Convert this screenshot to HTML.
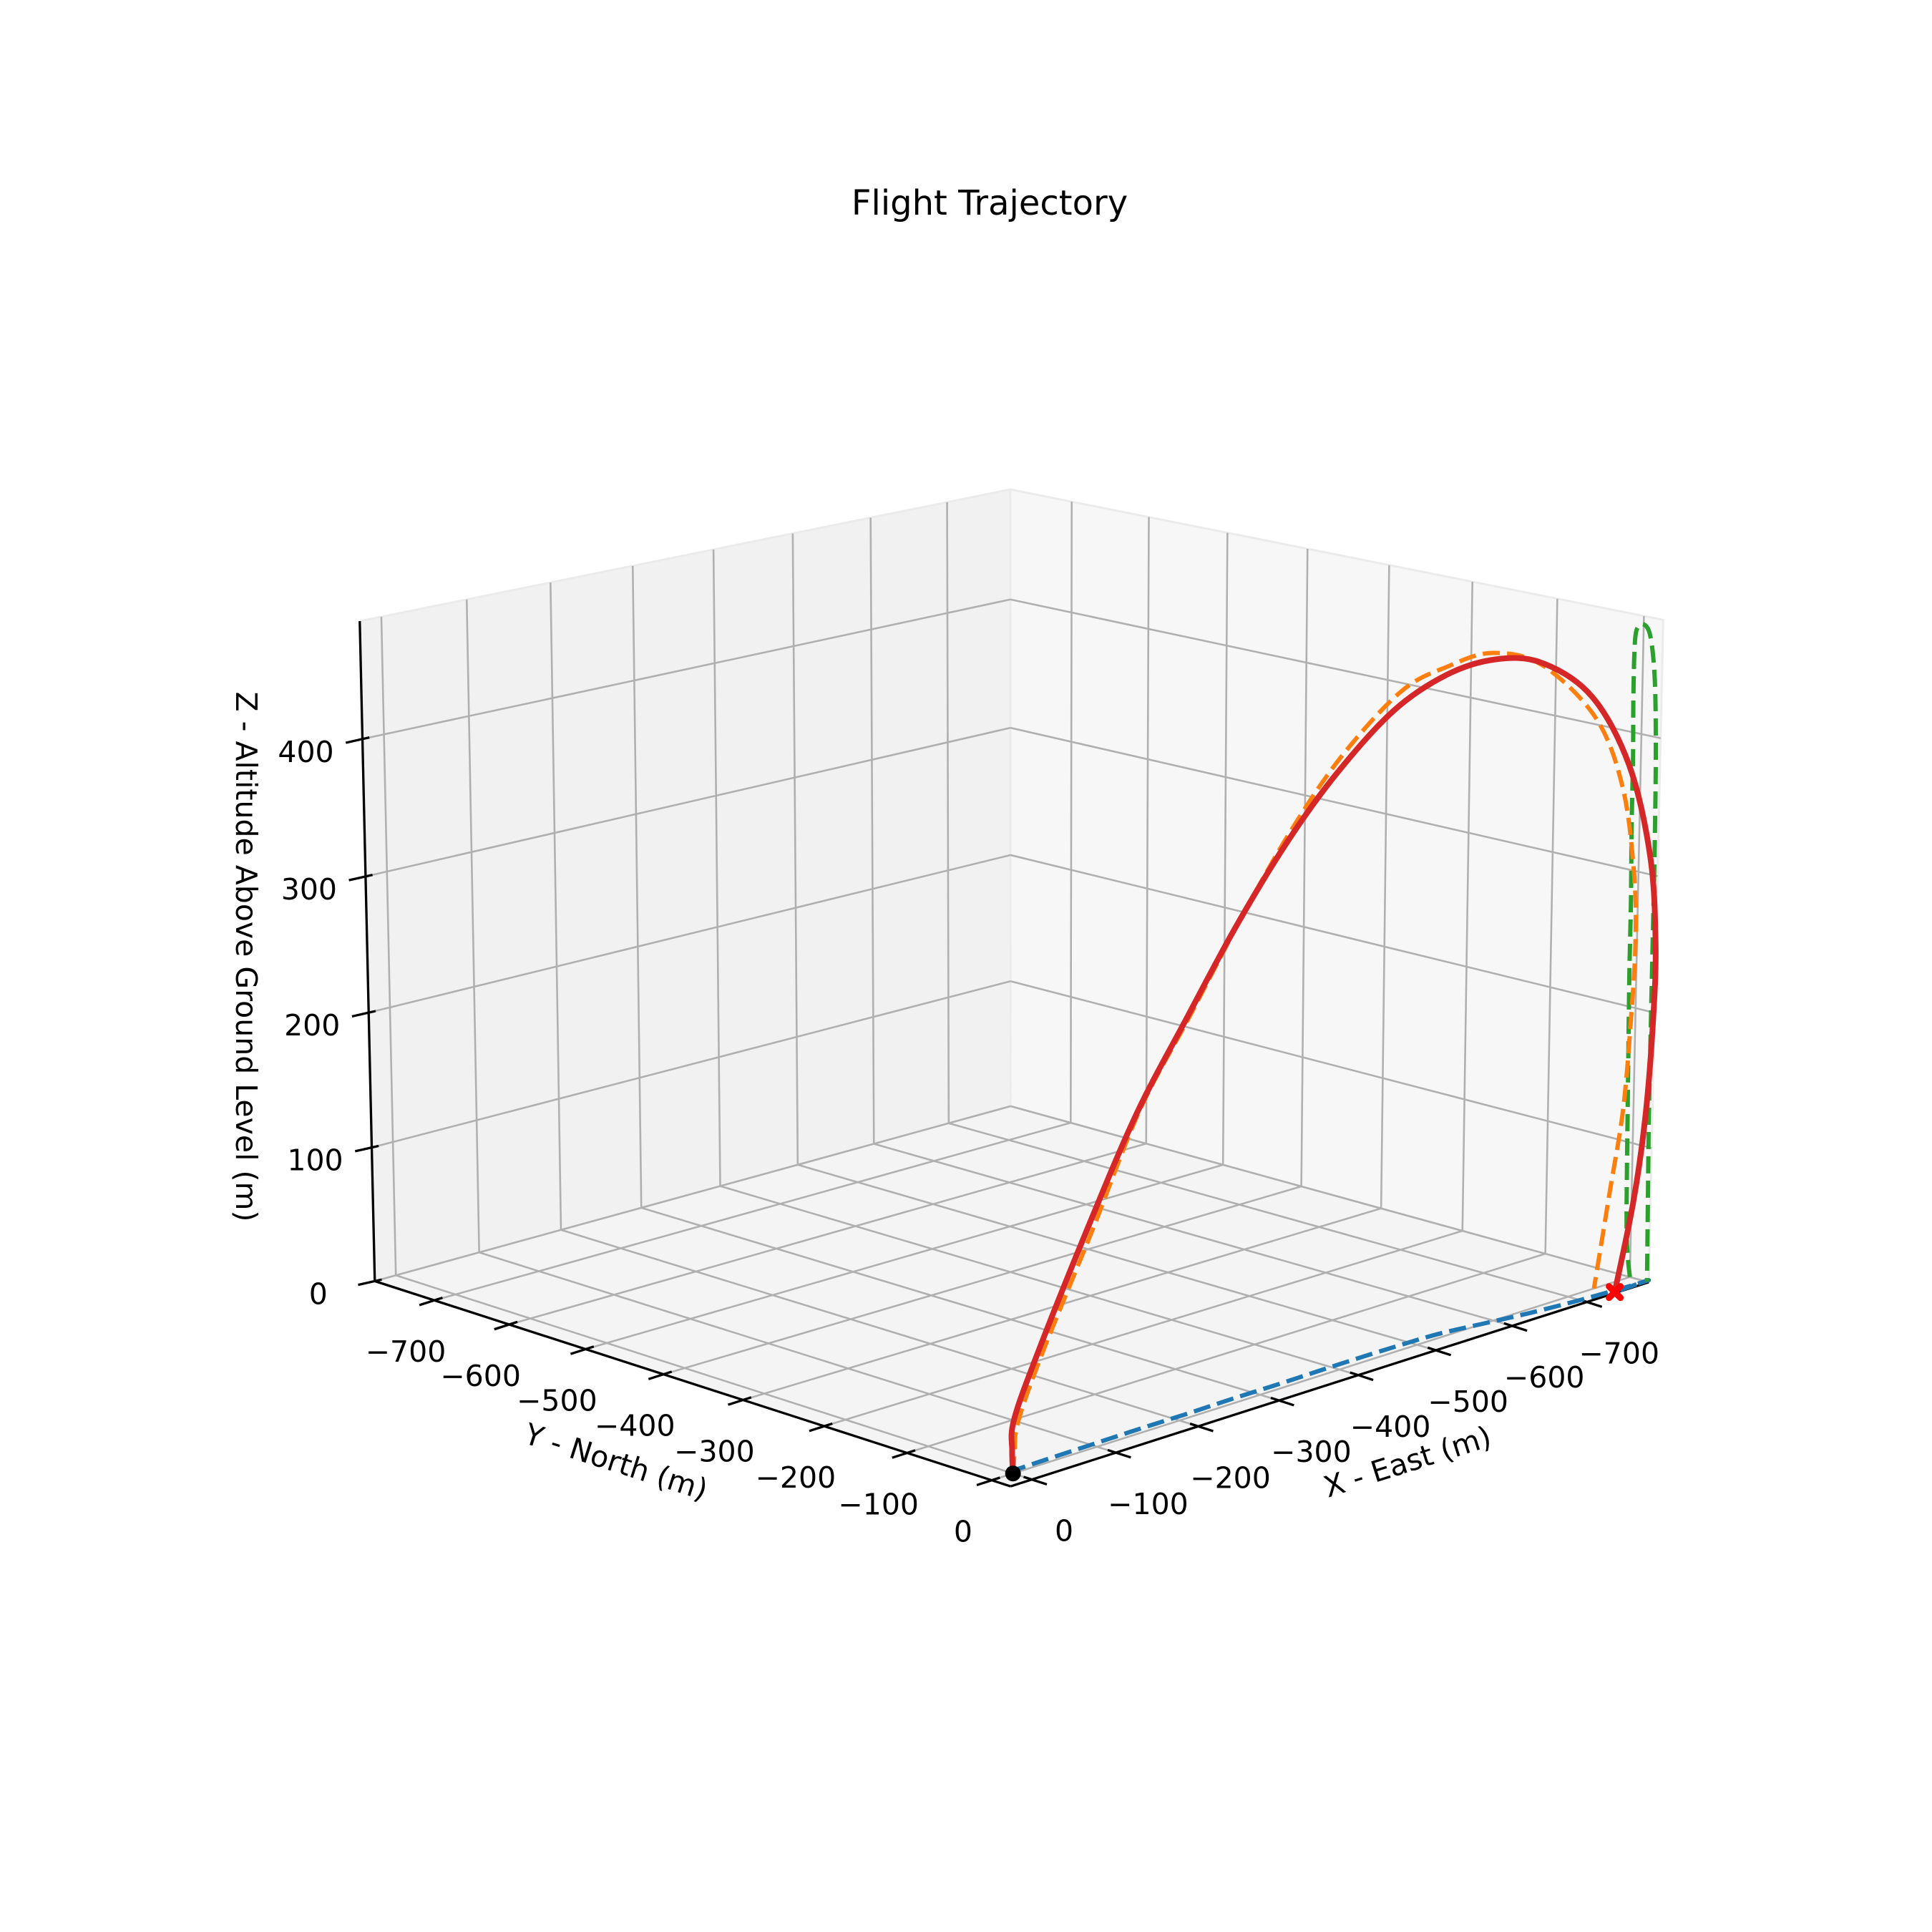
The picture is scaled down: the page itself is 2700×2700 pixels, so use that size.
<!DOCTYPE html>
<html><head><meta charset="utf-8"><title>Flight Trajectory</title>
<style>
html,body{margin:0;padding:0;background:#fff;}
svg{display:block;}
text{font-family:"DejaVu Sans","Liberation Sans",sans-serif;fill:#000;}
</style></head>
<body>
<svg id="chart" width="2700" height="2700" viewBox="0 0 2700 2700" xmlns="http://www.w3.org/2000/svg">
<rect x="0" y="0" width="2700" height="2700" fill="#fff"/>
<text x="1383" y="284" font-size="48" text-anchor="middle" dominant-baseline="central">Flight Trajectory</text>
<g id="panes"></g>
<g id="grid"></g>
<g id="axes"></g>
<g id="series"></g>
<text x="1967" y="2043" font-size="41" text-anchor="middle" dominant-baseline="central" transform="rotate(-17.6 1967 2043)">X - East (m)</text>
<text x="861" y="2043" font-size="41" text-anchor="middle" dominant-baseline="central" transform="rotate(17.7 861 2043)">Y - North (m)</text>
<text x="344" y="1337" font-size="41" text-anchor="middle" dominant-baseline="central" transform="rotate(90 344 1337)">Z - Altitude Above Ground Level (m)</text>
</svg>
<script>
// ---- data ----
const xLimits = [-784, 25];
const yLimits = [-781, 22];
const zLimits = [0, 485];
const xTicks = [0, -100, -200, -300, -400, -500, -600, -700];
const yTicks = [0, -100, -200, -300, -400, -500, -600, -700];
const zTicks = [0, 100, 200, 300, 400];
const xTickLabels = ["0", "\u2212100", "\u2212200", "\u2212300", "\u2212400", "\u2212500", "\u2212600", "\u2212700"];
const yTickLabels = ["0", "\u2212100", "\u2212200", "\u2212300", "\u2212400", "\u2212500", "\u2212600", "\u2212700"];
const zTickLabels = ["0", "100", "200", "300", "400"];
// actual trajectory (red)
const actualX = [0, -2, -6, -34, -93, -154, -214, -274, -335, -398, -470, -535, -588, -640, -700, -748, -778, -788, -787, -779, -764, -740];
const actualY = [0, -3, -5, -6, -7, -8, -8, -9, -9, -10, -10, -8, 0, 8, 14, 17, 18, 18, 18, 18, 19, 20];
const actualZ = [0, 15, 35, 75, 150, 222, 279, 333, 382, 422, 457, 474, 479, 471, 440, 385, 315, 250, 194, 122, 63, 0];
// reference trajectory (orange)
const refX = [0, -2, -6, -34, -93, -150, -210, -270, -330, -393, -468, -528, -585, -650, -722, -760, -778, -782, -778, -770, -754, -735];
const refY = [0, 0, 0, 0, 0, 0, 0, 0, 0, 0, 0, 0, 0, 0, 0, 0, 0, 0, 0, 0, 0, 0];
const refZ = [0, 15, 35, 77, 152, 227, 283, 340, 392, 436, 472, 482, 484, 467, 420, 365, 300, 248, 193, 128, 69, 0];

// ---- projection (fitted perspective camera) ----
const calib = [
  [0,0,0,1412,2077],[1,0,0,2307,1790],[0,1,0,522,1791],[1,1,0,1412,1545],
  [1,1,1,1412,685],[0,1,1,503,870],[1,0,1,2325,866],
  [0.0309,0,0,1440,2068],[0.896,0,0,2214,1822],
  [0,0.0274,0,1388,2068],[0,0.899,0,611,1820],
  [0,1,0.825,506,1031],[0,1,0.412,514,1412]
];
function solveCamera(){
  const A=[],b=[];
  calib.forEach(p=>{const [u,v,w]=p;const X=p[3]/1000,Y=p[4]/1000;
    A.push([u,v,w,1,0,0,0,0,-X*u,-X*v,-X*w]);b.push(X);
    A.push([0,0,0,0,u,v,w,1,-Y*u,-Y*v,-Y*w]);b.push(Y);});
  const n=11,N=[];
  for(let i=0;i<n;i++){N.push(new Array(n+1).fill(0));}
  for(let r=0;r<A.length;r++){for(let i=0;i<n;i++){for(let j=0;j<n;j++){N[i][j]+=A[r][i]*A[r][j];}N[i][n]+=A[r][i]*b[r];}}
  for(let c=0;c<n;c++){let piv=c;for(let r=c+1;r<n;r++){if(Math.abs(N[r][c])>Math.abs(N[piv][c]))piv=r;}
    const t=N[c];N[c]=N[piv];N[piv]=t;
    for(let r=0;r<n;r++){if(r===c)continue;const f=N[r][c]/N[c][c];for(let k=c;k<=n;k++){N[r][k]-=f*N[c][k];}}}
  return N.map((row,i)=>row[n]/row[i]);
}
const P = solveCamera();
function proj(x,y,z){
  const u=(xLimits[1]-x)/(xLimits[1]-xLimits[0]);
  const v=(yLimits[1]-y)/(yLimits[1]-yLimits[0]);
  const w=(z-zLimits[0])/(zLimits[1]-zLimits[0]);
  const d=P[8]*u+P[9]*v+P[10]*w+1;
  return [1000*(P[0]*u+P[1]*v+P[2]*w+P[3])/d, 1000*(P[4]*u+P[5]*v+P[6]*w+P[7])/d];
}
const NS="http://www.w3.org/2000/svg";
function mk(tag,parent){const e=document.createElementNS(NS,tag);parent.appendChild(e);return e;}
function poly(pts){return pts.map(p=>p[0].toFixed(1)+","+p[1].toFixed(1)).join(" ");}
function smooth(pts){
  let d="M"+pts[0][0].toFixed(1)+" "+pts[0][1].toFixed(1);
  for(let i=0;i<pts.length-1;i++){
    const p0=pts[Math.max(i-1,0)],p1=pts[i],p2=pts[i+1],p3=pts[Math.min(i+2,pts.length-1)];
    const c1=[p1[0]+(p2[0]-p0[0])/6,p1[1]+(p2[1]-p0[1])/6];
    const c2=[p2[0]-(p3[0]-p1[0])/6,p2[1]-(p3[1]-p1[1])/6];
    d+="C"+c1[0].toFixed(1)+" "+c1[1].toFixed(1)+" "+c2[0].toFixed(1)+" "+c2[1].toFixed(1)+" "+p2[0].toFixed(1)+" "+p2[1].toFixed(1);
  }
  return d;
}

const xmin=xLimits[0],xmax=xLimits[1],ymin=yLimits[0],ymax=yLimits[1],zmin=zLimits[0],zmax=zLimits[1];
const gP=document.getElementById('panes'),gG=document.getElementById('grid'),gA=document.getElementById('axes'),gS=document.getElementById('series');

// panes
const floor=mk('polygon',gP);
floor.setAttribute('points',poly([proj(xmax,ymax,zmin),proj(xmin,ymax,zmin),proj(xmin,ymin,zmin),proj(xmax,ymin,zmin)]));
floor.setAttribute('fill','#f4f4f4');floor.setAttribute('stroke','#ebebeb');floor.setAttribute('stroke-width','3');


const leftWall=mk('polygon',gP);
leftWall.setAttribute('points',poly([proj(xmax,ymin,zmin),proj(xmin,ymin,zmin),proj(xmin,ymin,zmax),proj(xmax,ymin,zmax)]));
leftWall.setAttribute('fill','#f1f1f1');leftWall.setAttribute('stroke','#ebebeb');leftWall.setAttribute('stroke-width','3');


const rightWall=mk('polygon',gP);
rightWall.setAttribute('points',poly([proj(xmin,ymax,zmin),proj(xmin,ymin,zmin),proj(xmin,ymin,zmax),proj(xmin,ymax,zmax)]));
rightWall.setAttribute('fill','#f7f7f7');rightWall.setAttribute('stroke','#ebebeb');rightWall.setAttribute('stroke-width','3');



function gridLine(a,b){const l=mk('line',gG);const p=proj(...a),q=proj(...b);
  l.setAttribute('x1',p[0]);l.setAttribute('y1',p[1]);l.setAttribute('x2',q[0]);l.setAttribute('y2',q[1]);
  l.setAttribute('stroke','#b0b0b0');l.setAttribute('stroke-width','2.6');
  
  }
xTicks.forEach(t=>{gridLine([t,ymin,zmin],[t,ymax,zmin]);gridLine([t,ymin,zmin],[t,ymin,zmax]);});
yTicks.forEach(t=>{gridLine([xmin,t,zmin],[xmax,t,zmin]);gridLine([xmin,t,zmin],[xmin,t,zmax]);});
zTicks.forEach(t=>{gridLine([xmin,ymin,t],[xmax,ymin,t]);gridLine([xmin,ymin,t],[xmin,ymax,t]);});

// axis lines
function axisLine(a,b,name){const l=mk('line',gA);const p=proj(...a),q=proj(...b);
  l.setAttribute('x1',p[0]);l.setAttribute('y1',p[1]);l.setAttribute('x2',q[0]);l.setAttribute('y2',q[1]);
  l.setAttribute('stroke','#000');l.setAttribute('stroke-width','3.3');
  
  }
axisLine([xmax,ymax,zmin],[xmin,ymax,zmin],'x-axis-line');
axisLine([xmax,ymax,zmin],[xmax,ymin,zmin],'y-axis-line');
axisLine([xmax,ymin,zmin],[xmax,ymin,zmax],'z-axis-line');

function tick(p,dir,a,b,name){const l=mk('line',gA);
  l.setAttribute('x1',p[0]-dir[0]*a);l.setAttribute('y1',p[1]-dir[1]*a);
  l.setAttribute('x2',p[0]+dir[0]*b);l.setAttribute('y2',p[1]+dir[1]*b);
  l.setAttribute('stroke','#000');l.setAttribute('stroke-width','3.3');
  
  }
function label(p,dx,dy,txt,name){const t=mk('text',gA);
  t.setAttribute('x',p[0]+dx);t.setAttribute('y',p[1]+dy);t.setAttribute('font-size','41');
  t.setAttribute('text-anchor','middle');t.setAttribute('dominant-baseline','central');t.textContent=txt;
  
  }
xTicks.forEach((t,i)=>{const p=proj(t,ymax,zmin);tick(p,[0.952,0.306],12,22,'x-tick');label(p,45,72,xTickLabels[i],'x-tick-label');});
yTicks.forEach((t,i)=>{const p=proj(xmax,t,zmin);tick(p,[-0.952,0.306],12,22,'y-tick');label(p,-40,72,yTickLabels[i],'y-tick-label');});
zTicks.forEach((t,i)=>{const p=proj(xmax,ymin,t);tick(p,[-0.97,0.22],10,24,'z-tick');label(p,-79,18,zTickLabels[i],'z-tick-label');});

// series
function path(xs,ys,zs,color,width,dash,name){const e=mk('path',gS);
  const pts=xs.map((x,i)=>proj(x,ys[i],zs[i]));
  e.setAttribute('d',smooth(pts));e.setAttribute('fill','none');e.setAttribute('stroke',color);
  e.setAttribute('stroke-width',width);e.setAttribute('stroke-linejoin','round');e.setAttribute('stroke-linecap', dash?'butt':'round');
  if(dash)e.setAttribute('stroke-dasharray',dash);
  
  }
const groundZ = actualZ.map(()=>zmin);
const wallX = actualX.map(()=>xmin);
path(actualX,actualY,groundZ,'#1f77b4',6,'24,10','ground-track-projection');
path(wallX,actualY,actualZ,'#2ca02c',6,'24,10','east-wall-projection');
path(refX,refY,refZ,'#ff7f0e',6,'24,10','reference-trajectory');
path(actualX,actualY,actualZ,'#d62728',8,null,'actual-trajectory');

const s=proj(actualX[0],actualY[0],actualZ[0]);
const startDot=mk('circle',gS);
startDot.setAttribute('cx',s[0]);startDot.setAttribute('cy',s[1]);startDot.setAttribute('r','11');startDot.setAttribute('fill','#000');


const n=actualX.length-1;
const e=proj(actualX[n],actualY[n],actualZ[n]);
const land=mk('path',gS);
land.setAttribute('d',`M${e[0]-8} ${e[1]-8}L${e[0]+8} ${e[1]+8}M${e[0]+8} ${e[1]-8}L${e[0]-8} ${e[1]+8}`);
land.setAttribute('stroke','#ff0000');land.setAttribute('stroke-width','9');land.setAttribute('stroke-linecap','round');


</script>
</body></html>
